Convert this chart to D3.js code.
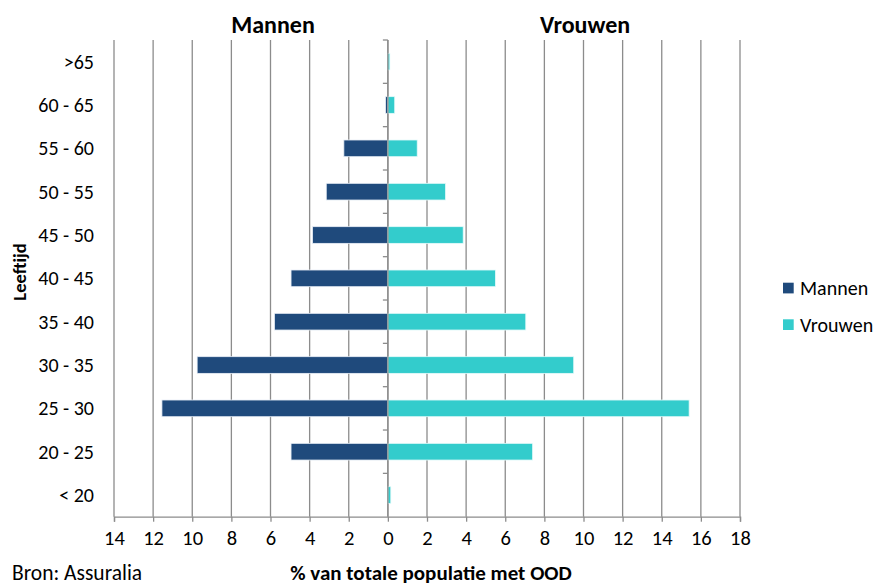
<!DOCTYPE html>
<html>
<head>
<meta charset="utf-8">
<script src="https://cdn.jsdelivr.net/npm/d3@7"></script>
<style>
  html, body { margin: 0; padding: 0; background: #fff; }
  svg { display: block; font-family: Carlito, Calibri, Lato, "Open Sans", sans-serif; }
</style>
</head>
<body>
<svg id="chart" width="877" height="585"></svg>
<script>
// Age groups, top to bottom
const categories = [">65", "60 - 65", "55 - 60", "50 - 55", "45 - 50", "40 - 45",
                    "35 - 40", "30 - 35", "25 - 30", "20 - 25", "< 20"];
// Share of total population (%) per age group
const mannen  = [0, 0.12, 2.25, 3.15, 3.85, 4.95, 5.8, 9.75, 11.55, 4.95, 0];
const vrouwen = [0.1, 0.35, 1.5, 2.95, 3.85, 5.5, 7.05, 9.5, 15.4, 7.4, 0.15];
const xTicks = [-14, -12, -10, -8, -6, -4, -2, 0, 2, 4, 6, 8, 10, 12, 14, 16, 18];
const seriesNames = ["Mannen", "Vrouwen"];
const colors = ["#1f4a7c", "#33cccc"];

const svg = d3.select("#chart");
const plot = { left: 114, right: 740, top: 40, bottom: 516.7 };

const x = d3.scaleLinear().domain([-14, 18]).range([plot.left, plot.right]);
const y = d3.scaleBand().domain(categories).range([plot.top, plot.bottom])
  .paddingInner(0.615).paddingOuter(0.3075);

const gridColor = "#8c8c8c";

// Vertical gridlines
svg.append("g").selectAll("line").data(xTicks).join("line")
  .attr("x1", d => x(d)).attr("x2", d => x(d))
  .attr("y1", plot.top).attr("y2", plot.bottom)
  .attr("stroke", gridColor).attr("stroke-width", 1.3);

// Bottom axis
const xAxis = d3.axisBottom(x).tickValues(xTicks)
  .tickFormat(d => Math.abs(d)).tickSize(5).tickPadding(9);
const gx = svg.append("g").attr("transform", `translate(0,${plot.bottom})`).call(xAxis);
gx.select(".domain").attr("stroke", gridColor).attr("stroke-width", 1.3);
gx.selectAll(".tick line").attr("stroke", gridColor).attr("stroke-width", 1.3);
gx.selectAll(".tick text").attr("fill", "#000").attr("font-size", 20.5)
  .attr("font-family", "Carlito, Calibri, Lato, sans-serif");

// Bars
const rows = categories.map((c, i) => ({ c, m: mannen[i], v: vrouwen[i] }));
svg.append("g").selectAll("rect").data(rows).join("rect")
  .attr("x", d => x(-d.m)).attr("width", d => x(0) - x(-d.m))
  .attr("y", d => y(d.c)).attr("height", y.bandwidth())
  .attr("fill", colors[0]).attr("stroke", "#e8eef6").attr("stroke-width", 0.8);
svg.append("g").selectAll("rect").data(rows).join("rect")
  .attr("x", x(0)).attr("width", d => x(d.v) - x(0))
  .attr("y", d => y(d.c)).attr("height", y.bandwidth())
  .attr("fill", colors[1]).attr("stroke", "#e6fafa").attr("stroke-width", 0.8);

// Zero axis with category separators
const x0 = x(0);
svg.append("line").attr("x1", x0).attr("x2", x0)
  .attr("y1", plot.top).attr("y2", plot.bottom)
  .attr("stroke", gridColor).attr("stroke-width", 1.3);
const bounds = d3.range(categories.length).map(i => plot.top + i * y.step());
svg.append("g").selectAll("line").data(bounds).join("line")
  .attr("x1", x0 - 5).attr("x2", x0).attr("y1", d => d).attr("y2", d => d)
  .attr("stroke", gridColor).attr("stroke-width", 1.3);

// Category labels
svg.append("g").selectAll("text").data(categories).join("text")
  .attr("x", 94).attr("y", d => y(d) + y.bandwidth() / 2)
  .attr("dy", "0.35em").attr("text-anchor", "end")
  .attr("font-size", 20).attr("fill", "#000").text(d => d);

// Side titles
svg.append("text").attr("x", 273).attr("y", 33).attr("text-anchor", "middle")
  .attr("font-size", 24).attr("font-weight", "bold").text("Mannen");
svg.append("text").attr("x", 585).attr("y", 33).attr("text-anchor", "middle")
  .attr("font-size", 24).attr("font-weight", "bold").text("Vrouwen");

// Axis titles
svg.append("text").attr("transform", "translate(26,272) rotate(-90)")
  .attr("text-anchor", "middle").attr("font-size", 18.5).attr("font-weight", "bold")
  .text("Leeftijd");
svg.append("text").attr("x", 431).attr("y", 580).attr("text-anchor", "middle")
  .attr("font-size", 21).attr("font-weight", "bold")
  .text("% van totale populatie met OOD");

// Source note
svg.append("text").attr("x", 12).attr("y", 580).attr("font-size", 21.5)
  .text("Bron: Assuralia");

// Legend
const legend = svg.append("g").selectAll("g").data(seriesNames).join("g")
  .attr("transform", (d, i) => `translate(783,${282.7 + i * 36.6})`);
legend.append("rect").attr("width", 10.7).attr("height", 10.7)
  .attr("fill", (d, i) => colors[i]);
legend.append("text").attr("x", 17).attr("y", 5.5).attr("dy", "0.35em")
  .attr("font-size", 20).text(d => d);
</script>
</body>
</html>
